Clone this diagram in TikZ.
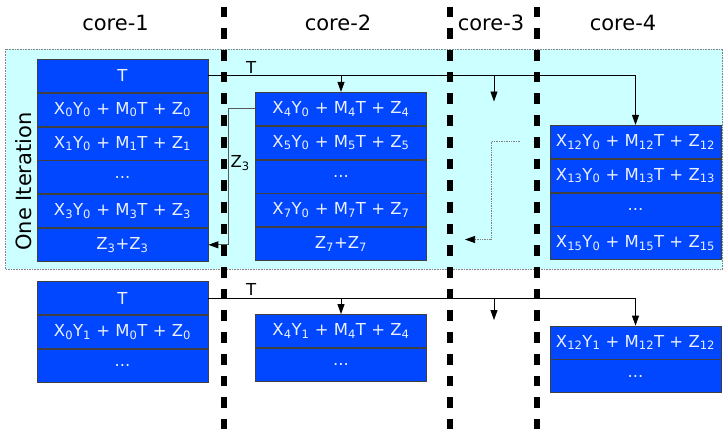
\documentclass[tikz,border=0pt]{standalone}
\usepackage{fontspec}
\setmainfont{DejaVu Sans}
\usetikzlibrary{arrows.meta, positioning}

\definecolor{cellBlue}{RGB}{0,71,255}
\definecolor{iterCyan}{RGB}{204,255,255}
\definecolor{cellText}{RGB}{235,240,255}

% subscript inside a cell
\newcommand{\idx}[1]{\textsubscript{#1}}

\begin{document}
\begin{tikzpicture}[
    x=1pt, y=-1pt,
    ->, >={Triangle[length=10pt,width=7pt]},
    line width=0.9pt,
    % one row of work for a core
    cellStyle/.style={
        draw=black!75,
        line width=0.8pt,
        fill=cellBlue,
        text=cellText,
        minimum width=171pt,
        minimum height=33pt,
        inner sep=0pt,
        font=\fontsize{16.5}{19}\selectfont
    },
    % column titles
    headStyle/.style={
        font=\fontsize{21}{24}\selectfont
    },
    % Plain edge labels
    labelStyle/.style={
        font=\fontsize{16.5}{19}\selectfont,
        inner sep=2pt
    },
    % thick dashed border between cores
    coreLine/.style={
        -, line width=6pt,
        dash pattern=on 10.7pt off 11pt,
        dash phase=15.1pt
    }
]
\useasboundingbox (0,0) rectangle (725,429);

%--- Shaded iteration ---
\draw[-, gray, densely dotted, line width=0.6pt, fill=iterCyan]
  (5.5,49) rectangle (722.5,269);

%--- Core borders ---
\foreach \lx in {224.3, 449.7, 537}
  \draw[coreLine] (\lx,0) -- (\lx,429);

%--- Titles ---
\node[headStyle] (core1) at (115.5,23) {core-1};
\node[headStyle] (core2) at (338,23)   {core-2};
\node[headStyle] (core3) at (491,23)   {core-3};
\node[headStyle] (core4) at (623,23)   {core-4};
\node[headStyle, rotate=90] (iter) at (24,181.5) {One Iteration};

%--- First iteration: core-1 ---
\node[cellStyle] (c1r1) at (122.5,75.8) {T};
\node[cellStyle, below=0pt of c1r1] (c1r2) {X\idx{0}Y\idx{0} + M\idx{0}T + Z\idx{0}};
\node[cellStyle, below=0pt of c1r2] (c1r3) {X\idx{1}Y\idx{0} + M\idx{1}T + Z\idx{1}};
\node[cellStyle, below=0pt of c1r3] (c1r4) {...};
\node[cellStyle, below=0pt of c1r4] (c1r5) {X\idx{3}Y\idx{0} + M\idx{3}T + Z\idx{3}};
\node[cellStyle, below=0pt of c1r5] (c1r6) {Z\idx{3}+Z\idx{3}};

%--- First iteration: core-2 ---
\node[cellStyle] (c2r1) at (341,108.8) {X\idx{4}Y\idx{0} + M\idx{4}T + Z\idx{4}};
\node[cellStyle, below=0pt of c2r1] (c2r2) {X\idx{5}Y\idx{0} + M\idx{5}T + Z\idx{5}};
\node[cellStyle, below=0pt of c2r2] (c2r3) {...};
\node[cellStyle, below=0pt of c2r3] (c2r4) {X\idx{7}Y\idx{0} + M\idx{7}T + Z\idx{7}};
\node[cellStyle, below=0pt of c2r4] (c2r5) {Z\idx{7}+Z\idx{7}};

%--- First iteration: core-3 (arrow ends only) ---
\coordinate (c3t)   at (494,101.5);
\coordinate (c3out) at (520,141);
\coordinate (c3in)  at (465,239.5);

%--- First iteration: core-4 ---
\node[cellStyle] (c4r1) at (635.5,141.8) {X\idx{12}Y\idx{0} + M\idx{12}T + Z\idx{12}};
\node[cellStyle, below=0pt of c4r1] (c4r2) {X\idx{13}Y\idx{0} + M\idx{13}T + Z\idx{13}};
\node[cellStyle, below=0pt of c4r2] (c4r3) {...};
\node[cellStyle, below=0pt of c4r3] (c4r4) {X\idx{15}Y\idx{0} + M\idx{15}T + Z\idx{15}};

%--- Second iteration ---
\node[cellStyle] (b1r1) at (122.5,298) {T};
\node[cellStyle, below=0pt of b1r1] (b1r2) {X\idx{0}Y\idx{1} + M\idx{0}T + Z\idx{0}};
\node[cellStyle, below=0pt of b1r2] (b1r3) {...};

\node[cellStyle] (b2r1) at (341,331) {X\idx{4}Y\idx{1} + M\idx{4}T + Z\idx{4}};
\node[cellStyle, below=0pt of b2r1] (b2r2) {...};

\coordinate (b3t) at (494,320);

\node[cellStyle] (b4r1) at (635.5,342.5) {X\idx{12}Y\idx{1} + M\idx{12}T + Z\idx{12}};
\node[cellStyle, below=0pt of b4r1] (b4r2) {...};

%-----------------------
%        Edges
%-----------------------
% T sent from core-1 to the other cores
\draw (c1r1.east) -| node[labelStyle, above, pos=0.05] (tTop) {T} (c4r1.north);
\draw (c1r1.east -| c2r1.north) -- (c2r1.north);
\draw (c1r1.east -| c3t) -- (c3t);

% partial Z back to core-1
\draw[black!65, -{Triangle[length=10pt,width=7pt,black]}] (c2r1.west) -- ++(-27,0)
  |- node[labelStyle, right, pos=0.2, text=black] (zLabel) {Z\idx{3}} (c1r6.east);

% core-3 passing its partial sum on
\draw[gray, densely dotted, line width=0.7pt, -{Triangle[length=10pt,width=7pt,black]}]
  (c3out) -- ++(-28.3,0) |- (c3in);

% T for the next iteration
\draw (b1r1.east) -| node[labelStyle, above, pos=0.05] (tBottom) {T} (b4r1.north);
\draw (b1r1.east -| b2r1.north) -- (b2r1.north);
\draw (b1r1.east -| b3t) -- (b3t);
\end{tikzpicture}
\end{document}
